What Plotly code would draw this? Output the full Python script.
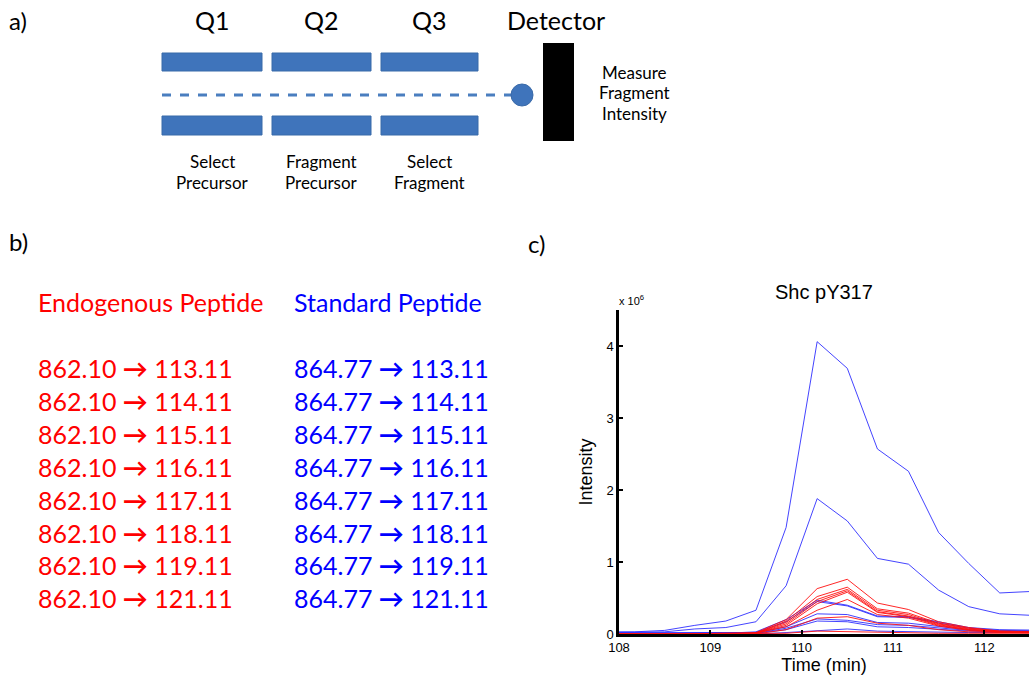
import plotly.graph_objects as go

# ---------------- data ----------------
time_min = [107.83, 108.17, 108.5, 108.83, 109.17, 109.5, 109.83, 110.17,
            110.5, 110.83, 111.17, 111.5, 111.83, 112.17, 112.5, 112.83]

# intensities in units of 1e6
standard_series = [
    [0.03, 0.03, 0.05, 0.12, 0.18, 0.33, 1.48, 4.06, 3.69, 2.57, 2.26, 1.41, 0.98, 0.57, 0.59, 0.59],
    [0.02, 0.02, 0.03, 0.07, 0.09, 0.17, 0.67, 1.88, 1.57, 1.05, 0.97, 0.61, 0.38, 0.28, 0.26, 0.26],
    [0.01, 0.01, 0.01, 0.01, 0.01, 0.03, 0.20, 0.47, 0.40, 0.25, 0.24, 0.17, 0.09, 0.06, 0.05, 0.05],
    [0.01, 0.01, 0.01, 0.01, 0.01, 0.02, 0.17, 0.45, 0.39, 0.24, 0.23, 0.15, 0.08, 0.05, 0.04, 0.04],
    [0.01, 0.01, 0.01, 0.01, 0.01, 0.02, 0.10, 0.28, 0.27, 0.16, 0.15, 0.10, 0.06, 0.04, 0.03, 0.03],
    [0.01, 0.01, 0.01, 0.01, 0.01, 0.01, 0.08, 0.21, 0.19, 0.13, 0.12, 0.08, 0.05, 0.03, 0.03, 0.03],
    [0.01, 0.01, 0.01, 0.01, 0.01, 0.01, 0.06, 0.18, 0.17, 0.10, 0.09, 0.06, 0.04, 0.03, 0.02, 0.02],
    [0.00, 0.00, 0.00, 0.00, 0.00, 0.00, 0.02, 0.05, 0.07, 0.04, 0.03, 0.02, 0.02, 0.02, 0.02, 0.02],
]
endogenous_series = [
    [0.0, 0.0, 0.0, 0.0, 0.0, 0.02, 0.20, 0.63, 0.76, 0.43, 0.34, 0.17, 0.09, 0.04, 0.03, 0.03],
    [0.0, 0.0, 0.0, 0.0, 0.0, 0.01, 0.18, 0.52, 0.65, 0.35, 0.29, 0.15, 0.08, 0.04, 0.03, 0.03],
    [0.0, 0.0, 0.0, 0.0, 0.0, 0.01, 0.16, 0.48, 0.62, 0.33, 0.27, 0.14, 0.07, 0.03, 0.02, 0.02],
    [0.0, 0.0, 0.0, 0.0, 0.0, 0.01, 0.14, 0.45, 0.60, 0.31, 0.25, 0.13, 0.06, 0.03, 0.02, 0.02],
    [0.0, 0.0, 0.0, 0.0, 0.0, 0.01, 0.12, 0.42, 0.58, 0.30, 0.24, 0.12, 0.06, 0.03, 0.02, 0.02],
    [0.0, 0.0, 0.0, 0.0, 0.0, 0.01, 0.10, 0.33, 0.48, 0.27, 0.22, 0.11, 0.05, 0.02, 0.02, 0.02],
    [0.0, 0.0, 0.0, 0.0, 0.0, 0.00, 0.06, 0.22, 0.24, 0.15, 0.12, 0.06, 0.03, 0.02, 0.01, 0.01],
    [0.0, 0.0, 0.0, 0.0, 0.0, 0.00, 0.01, 0.04, 0.03, 0.02, 0.02, 0.01, 0.01, 0.01, 0.01, 0.01],
]

x_ticks = [108, 109, 110, 111, 112]
y_ticks = [0, 1, 2, 3, 4]

precursor_endo = "862.10"
precursor_std = "864.77"
fragments = ["113.11", "114.11", "115.11", "116.11", "117.11", "118.11", "119.11", "121.11"]

stages = ["Q1", "Q2", "Q3"]
stage_notes = [["Select", "Precursor"], ["Fragment", "Precursor"], ["Select", "Fragment"]]
detector_note = ["Measure", "Fragment", "Intensity"]

# ---------------- figure ----------------
W, H = 1029, 675
fig = go.Figure()

BLUE_LINE = "rgba(35,35,255,0.85)"
RED_LINE = "rgba(255,15,15,0.9)"

for s in standard_series:
    fig.add_trace(go.Scatter(x=time_min, y=s, mode="lines",
                             line=dict(color=BLUE_LINE, width=1), showlegend=False))
for s in endogenous_series:
    fig.add_trace(go.Scatter(x=time_min, y=s, mode="lines",
                             line=dict(color=RED_LINE, width=1), showlegend=False))

def px_x(p):
    return p / W

def px_y(p):
    return 1 - p / H

FONT_TXT = "Lato, 'Open Sans', sans-serif"
FONT_AX = "'Liberation Sans', Arial, sans-serif"

fig.update_layout(
    template="none",
    width=W, height=H,
    margin=dict(l=0, r=0, t=0, b=0, pad=0),
    paper_bgcolor="white", plot_bgcolor="white",
    xaxis=dict(domain=[px_x(619), 1.0], range=[108, 112.49], automargin=False,
               tickvals=x_ticks, ticktext=[str(v) for v in x_ticks],
               ticks="inside", ticklen=4, tickwidth=2, tickcolor="black",
               showline=True, linecolor="black", linewidth=2.5,
               showgrid=False, zeroline=False,
               tickfont=dict(family=FONT_AX, size=13, color="black"),
               title=dict(text="Time (min)", font=dict(family=FONT_AX, size=18, color="black"),
                          standoff=2)),
    yaxis=dict(domain=[px_y(634), px_y(310)], range=[0, 4.5], automargin=False,
               tickvals=y_ticks, ticktext=[str(v) for v in y_ticks],
               ticks="inside", ticklen=4, tickwidth=2, tickcolor="black",
               showline=True, linecolor="black", linewidth=2.5,
               showgrid=False, zeroline=False,
               tickfont=dict(family=FONT_AX, size=13, color="black"),
               title=dict(text="Intensity", font=dict(family=FONT_AX, size=18, color="black"),
                          standoff=10)),
)

shapes = []
ann = []

def text(x, y, s, size, color="black", family=FONT_TXT, xanchor="center"):
    ann.append(dict(x=px_x(x), y=px_y(y), xref="paper", yref="paper", text=s, showarrow=False,
                    xanchor=xanchor, yanchor="middle", borderpad=0,
                    font=dict(family=family, size=size, color=color)))

def rect(x0, x1, y0, y1, **kw):
    shapes.append(dict(type="rect", xref="paper", yref="paper",
                       x0=px_x(x0), x1=px_x(x1), y0=px_y(y1), y1=px_y(y0), **kw))

# ---- panel a ----
text(8, 20, "a)", 24, xanchor="left")
bar_x = [(162, 262), (272, 371), (381, 478)]
for (x0, x1), lab, note in zip(bar_x, stages, stage_notes):
    for (y0, y1) in [(53, 71), (116, 135)]:
        rect(x0, x1, y0, y1, fillcolor="#3f74bb", line=dict(color="#386aa9", width=1))
    text((x0 + x1) / 2, 20, lab, 25)
    for j, line in enumerate(note):
        text((x0 + x1) / 2, 161 + j * 22, line, 17)

shapes.append(dict(type="line", xref="paper", yref="paper", x0=px_x(162), x1=px_x(515),
                   y0=px_y(95), y1=px_y(95),
                   line=dict(color="#4a7ebf", width=3, dash="dash")))
shapes.append(dict(type="circle", xref="paper", yref="paper", x0=px_x(511), x1=px_x(533),
                   y0=px_y(106), y1=px_y(84),
                   fillcolor="#3f74bb", line=dict(color="#3a6aa8", width=1)))
rect(543, 574, 43, 141, fillcolor="black", line=dict(color="black", width=0))
text(556, 20, "Detector", 25)
for j, line in enumerate(detector_note):
    text(634, 72 + j * 20.5, line, 17)

# ---- panel b ----
text(8, 241, "b)", 24, xanchor="left")
text(37, 302, "Endogenous Peptide", 25, color="#ff0000", xanchor="left")
text(293, 302, "Standard Peptide", 25, color="#0000ff", xanchor="left")
row_y0, row_dy = 368, 32.9
for i, frag in enumerate(fragments):
    yy = row_y0 + i * row_dy
    text(37, yy, f"{precursor_endo} <b>→</b> {frag}", 25, color="#ff0000", xanchor="left")
    text(293, yy, f"{precursor_std} <b>→</b> {frag}", 25, color="#0000ff", xanchor="left")

# ---- panel c ----
text(527, 243, "c)", 24, xanchor="left")
text(824, 292, "Shc pY317", 20, family=FONT_AX)
text(618, 300, "x 10<sup>6</sup>", 11, family=FONT_AX, xanchor="left")

fig.update_layout(shapes=shapes, annotations=ann)
fig.write_html("out.html")
